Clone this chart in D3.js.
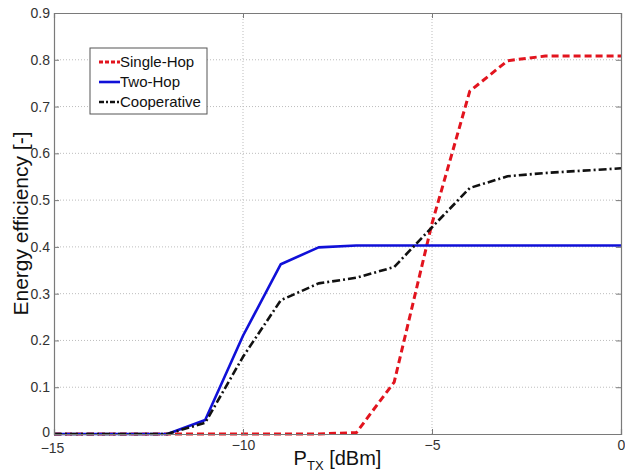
<!DOCTYPE html>
<html>
<head>
<meta charset="utf-8">
<script src="https://cdn.jsdelivr.net/npm/d3@7"></script>
<style>
  html, body { margin: 0; padding: 0; background: #fff; }
  svg { display: block; font-family: "Liberation Sans", Arial, sans-serif; }
</style>
</head>
<body>
<svg id="chart" width="625" height="475"></svg>
<script>
// Transmit power levels in dBm
const ptx = [-15, -14, -13, -12, -11, -10, -9, -8, -7, -6, -5, -4, -3, -2, -1, 0];

// Energy efficiency per scheme
const singleHop   = [0, 0, 0, 0, 0, 0, 0, 0, 0.003, 0.111, 0.45, 0.733, 0.798, 0.808, 0.808, 0.808];
const twoHop      = [0, 0, 0, 0, 0.03, 0.21, 0.363, 0.399, 0.403, 0.403, 0.403, 0.403, 0.403, 0.403, 0.403, 0.403];
const cooperative = [0, 0, 0, 0, 0.024, 0.165, 0.286, 0.322, 0.334, 0.357, 0.442, 0.526, 0.551, 0.558, 0.563, 0.568];

const xTicks = [-15, -10, -5, 0];
const yTicks = [0, 0.1, 0.2, 0.3, 0.4, 0.5, 0.6, 0.7, 0.8, 0.9];

const seriesNames = ["Single-Hop", "Two-Hop", "Cooperative"];

const series = [
  { name: seriesNames[0], values: singleHop,   color: "#e2141e", width: 3,   dash: "7,4" },
  { name: seriesNames[1], values: twoHop,      color: "#1010d8", width: 2.6, dash: null },
  { name: seriesNames[2], values: cooperative, color: "#111111", width: 2.6, dash: "8,3,2,3" }
];

const svg = d3.select("#chart");
const mLeft = 54, mRight = 621, mTop = 13, mBottom = 434;

const x = d3.scaleLinear().domain([-15, 0]).range([mLeft, mRight]);
const y = d3.scaleLinear().domain([0, 0.9]).range([mBottom, mTop]);

// Dotted grid
const grid = svg.append("g");
grid.selectAll("line.gx").data(xTicks.slice(1, -1)).enter().append("line")
  .attr("x1", d => x(d)).attr("x2", d => x(d))
  .attr("y1", mTop).attr("y2", mBottom)
  .attr("stroke", "#bdbdbd").attr("stroke-width", 1).attr("stroke-dasharray", "1,2");
grid.selectAll("line.gy").data(yTicks.slice(1, -1)).enter().append("line")
  .attr("x1", mLeft).attr("x2", mRight)
  .attr("y1", d => y(d)).attr("y2", d => y(d))
  .attr("stroke", "#bdbdbd").attr("stroke-width", 1).attr("stroke-dasharray", "1,2");

// Curves
const line = d3.line()
  .x((d, i) => x(ptx[i]))
  .y(d => y(d));

series.forEach(s => {
  svg.append("path")
    .datum(s.values)
    .attr("d", line)
    .attr("fill", "none")
    .attr("stroke", s.color)
    .attr("stroke-width", s.width)
    .attr("stroke-linejoin", "round")
    .attr("stroke-dasharray", s.dash);
});

// Axes box with inward ticks on all sides
const axisColor = "#7a7a7a";
const tickFmt = d => d3.format("")(d);

const gBottom = svg.append("g").attr("transform", `translate(0,${mBottom})`)
  .call(d3.axisBottom(x).tickValues(xTicks).tickSize(-5).tickPadding(6).tickFormat(tickFmt));
const gTop = svg.append("g").attr("transform", `translate(0,${mTop})`)
  .call(d3.axisTop(x).tickValues(xTicks).tickSize(-5).tickFormat(""));
const gLeft = svg.append("g").attr("transform", `translate(${mLeft},0)`)
  .call(d3.axisLeft(y).tickValues(yTicks).tickSize(-5).tickPadding(4).tickFormat(d => d === 0 ? "0" : d3.format(".1f")(d)));
const gRight = svg.append("g").attr("transform", `translate(${mRight},0)`)
  .call(d3.axisRight(y).tickValues(yTicks).tickSize(-5).tickFormat(""));

[gBottom, gTop, gLeft, gRight].forEach(g => {
  g.select(".domain").attr("stroke", axisColor).attr("stroke-width", 1.2);
  g.selectAll(".tick line").attr("stroke", axisColor);
  g.selectAll(".tick text").attr("fill", "#333").style("font-size", "14px")
    .style("font-family", "'Liberation Sans', Arial, sans-serif");
});
// The first x label sits just under the y-axis zero label
gBottom.selectAll(".tick text").filter(d => d === -15).attr("dx", "-2").attr("dy", "0.9em");
gLeft.selectAll(".tick text").filter(d => d === 0).attr("dy", "0.2em");

// Axis titles
svg.append("text")
  .attr("transform", `translate(28,${(mTop + mBottom) / 2}) rotate(-90)`)
  .attr("text-anchor", "middle")
  .attr("fill", "#111")
  .style("font-size", "21px")
  .text("Energy efficiency [-]");

const xl = svg.append("text")
  .attr("x", (mLeft + mRight) / 2)
  .attr("y", 465)
  .attr("text-anchor", "middle")
  .attr("fill", "#111")
  .style("font-size", "20px");
xl.append("tspan").text("P");
xl.append("tspan").attr("dy", 5).style("font-size", "13px").text("TX");
xl.append("tspan").attr("dy", -5).text(" [dBm]");

// Legend
const lg = svg.append("g").attr("transform", "translate(90,48)");
lg.append("rect")
  .attr("width", 117).attr("height", 66)
  .attr("fill", "#fff").attr("stroke", "#555").attr("stroke-width", 1);
series.forEach((s, i) => {
  const yy = 14 + i * 20;
  lg.append("line")
    .attr("x1", 9).attr("x2", 30).attr("y1", yy).attr("y2", yy)
    .attr("stroke", s.color).attr("stroke-width", s.width)
    .attr("stroke-dasharray", s.dash ? (i === 0 ? "4,2" : "5,2,2,2") : null);
  lg.append("text")
    .attr("x", 30).attr("y", yy + 5)
    .attr("fill", "#111")
    .style("font-size", "15px")
    .text(s.name);
});
</script>
</body>
</html>
